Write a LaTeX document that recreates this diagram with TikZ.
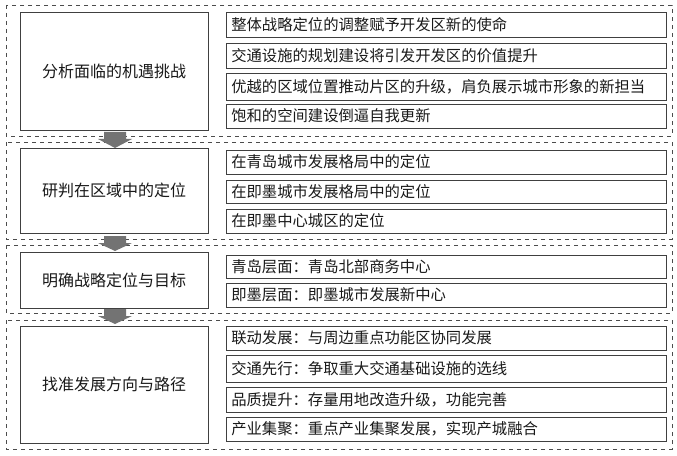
\documentclass[tikz,border=0pt]{standalone}
\usepackage{fontspec}
\setmainfont{Noto Sans CJK SC}
\begin{document}
\begin{tikzpicture}[x=0.75pt,y=-0.75pt,
  grp/.style={draw=black!70,dashed,line width=0.6pt},
  lbox/.style={draw=black!75,line width=0.6pt},
  rbox/.style={draw=black!75,line width=0.6pt},
  ltxt/.style={font=\fontsize{12}{14}\selectfont,text=black!90},
  rtxt/.style={font=\fontsize{11.5}{13}\selectfont,text=black!90,anchor=west,inner sep=0pt},
  arr/.style={fill=black!55,draw=none}]
\useasboundingbox (0,0) rectangle (677,456);
% groups
\draw[grp] (6,5) rectangle (672,136);
\draw[grp] (6,142) rectangle (672,239);
\draw[grp] (6,245) rectangle (672,313);
\draw[grp] (6,320) rectangle (672,449);
% arrows
\foreach \ya/\yb in {132/148,236/251,309/324}{
  \fill[arr] (104,\ya) -- (126,\ya) -- (126,\ya+7) -- (132,\ya+7) -- (115,\yb) -- (98,\ya+7) -- (104,\ya+7) -- cycle;
}
% left boxes
\draw[lbox,fill=white] (20,12) rectangle (208,130) node[ltxt,midway] (l1) {分析面临的机遇挑战};
\draw[lbox,fill=white] (20,148) rectangle (208,233) node[ltxt,midway] (l2) {研判在区域中的定位};
\draw[lbox,fill=white] (20,252) rectangle (208,308) node[ltxt,midway] (l3) {明确战略定位与目标};
\draw[lbox,fill=white] (20,326) rectangle (208,443) node[ltxt,midway] (l4) {找准发展方向与路径};
% right boxes
\foreach \ya/\yb/\t/\n in {
 12/37/{整体战略定位的调整赋予开发区新的使命}/a1,
 43/68/{交通设施的规划建设将引发开发区的价值提升}/a2,
 73/100/{优越的区域位置推动片区的升级，肩负展示城市形象的新担当}/a3,
 104/128/{饱和的空间建设倒逼自我更新}/a4,
 150/174/{在青岛城市发展格局中的定位}/b1,
 180/203/{在即墨城市发展格局中的定位}/b2,
 209/233/{在即墨中心城区的定位}/b3,
 255/278/{青岛层面：青岛北部商务中心}/c1,
 283/307/{即墨层面：即墨城市发展新中心}/c2,
 326/350/{联动发展：与周边重点功能区协同发展}/d1,
 355/382/{交通先行：争取重大交通基础设施的选线}/d2,
 387/412/{品质提升：存量用地改造升级，功能完善}/d3,
 417/441/{产业集聚：重点产业集聚发展，实现产城融合}/d4}{
  \draw[rbox] (226,\ya) rectangle (666,\yb);
  \node[rtxt] (\n) at (231,{(\ya+\yb)/2}) {\t};
}
\end{tikzpicture}
\end{document}
